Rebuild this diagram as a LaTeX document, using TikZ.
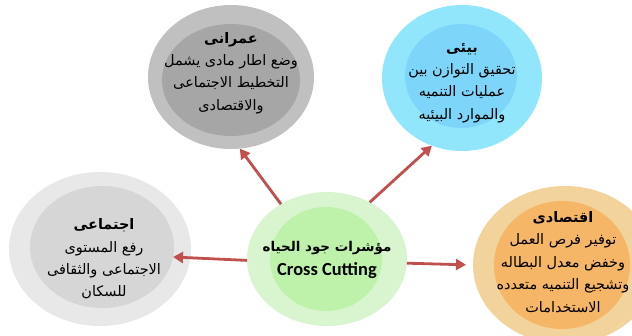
\documentclass[tikz,border=0pt]{standalone}
\usepackage{fontspec}
\usepackage{xcolor}
\usetikzlibrary{arrows.meta,shapes.geometric}
\TeXXeTstate=1
\newfontfamily\arabicfont[Script=Arabic]{DejaVu Sans}
\newfontfamily\calibrifont{Carlito}
\newcommand{\rl}[1]{\beginR #1\endR}

\definecolor{grayout}{RGB}{192,192,192}
\definecolor{grayin}{RGB}{166,166,166}
\definecolor{blueout}{RGB}{146,230,252}
\definecolor{bluein}{RGB}{125,214,250}
\definecolor{lgrayout}{RGB}{232,232,232}
\definecolor{lgrayin}{RGB}{214,214,214}
\definecolor{greenout}{RGB}{216,245,207}
\definecolor{greenin}{RGB}{190,242,170}
\definecolor{orangeout}{RGB}{241,211,155}
\definecolor{orangein}{RGB}{245,182,104}
\definecolor{arrowred}{RGB}{192,80,77}

\begin{document}
\begin{tikzpicture}[x=1bp, y=-1bp,
    ring/.style={ellipse, inner sep=0pt, outer sep=0pt},
    circletext/.style={align=center, inner sep=0pt,
        font=\arabicfont\fontsize{14.5}{22.5}\selectfont},
    link/.style={-{Triangle[length=10bp,width=11bp]}, line width=2.8bp, draw=arrowred}]
    \useasboundingbox (0,0) rectangle (632,335);

    % Umrani (top left)
    \node [ring, fill=grayout, minimum width=166bp, minimum height=144bp] (umrani) at (231,77) {};
    \node [ring, fill=grayin, minimum width=138bp, minimum height=112bp] (umrani in) at (231,80) {};
    \node [circletext] (umrani txt) at (231,73)
        {\textbf{\rl{عمرانى}}\\\rl{وضع اطار مادى يشمل}\\\rl{التخطيط الاجتماعى}\\\rl{والاقتصادى}};

    % Bi'i (top right)
    \node [ring, fill=blueout, minimum width=160bp, minimum height=146bp] (bii) at (462,78) {};
    \node [ring, fill=bluein, minimum width=112bp, minimum height=104bp] (bii in) at (461,76) {};
    \node [circletext] (bii txt) at (462,83)
        {\textbf{\rl{بيئى}}\\\rl{تحقيق التوازن بين}\\\rl{عمليات التنميه}\\\rl{والموارد البيئيه}};

    % Ijtimai (left)
    \node [ring, fill=lgrayout, minimum width=182bp, minimum height=154bp] (ijtimai) at (100,249) {};
    \node [ring, fill=lgrayin, minimum width=144bp, minimum height=122bp] (ijtimai in) at (102,247) {};
    \node [circletext] (ijtimai txt) at (104,259)
        {\textbf{\rl{اجتماعى}}\\\rl{رفع المستوى}\\\rl{الاجتماعى والثقافى}\\\rl{للسكان}};

    % Iqtisadi (right)
    \node [ring, fill=orangeout, minimum width=184bp, minimum height=158bp] (iqtisadi) at (565,265) {};
    \node [ring, fill=orangein, minimum width=136bp, minimum height=128bp] (iqtisadi in) at (562,265) {};
    \node [circletext] (iqtisadi txt) at (563,262)
        {\textbf{\rl{اقتصادى}}\\\rl{توفير فرص العمل}\\\rl{وخفض معدل البطاله}\\\rl{وتشجيع التنميه متعدده}\\\rl{الاستخدامات}};

    % Cross cutting (centre)
    \node [ring, fill=greenout, minimum width=160bp, minimum height=134bp] (cross) at (327,259) {};
    \node [ring, fill=greenin, minimum width=112bp, minimum height=104bp] (cross in) at (326,259) {};
    \node [circletext, font=\arabicfont\bfseries\fontsize{13.5}{24}\selectfont] (cross txt) at (327,260)
        {\rl{مؤشرات جود الحياه}\\{\calibrifont\bfseries\fontsize{18.5}{24}\selectfont Cross Cutting}};

    % Arrows
    \draw [link] (cross.130) -- (umrani.277);
    \draw [link] (cross.53) -- (bii.246);
    \draw [link] (cross.181) -- (ijtimai in.-8);
    \draw [link, shorten >=7bp] (cross.-3) -- (iqtisadi.180);
\end{tikzpicture}
\end{document}
